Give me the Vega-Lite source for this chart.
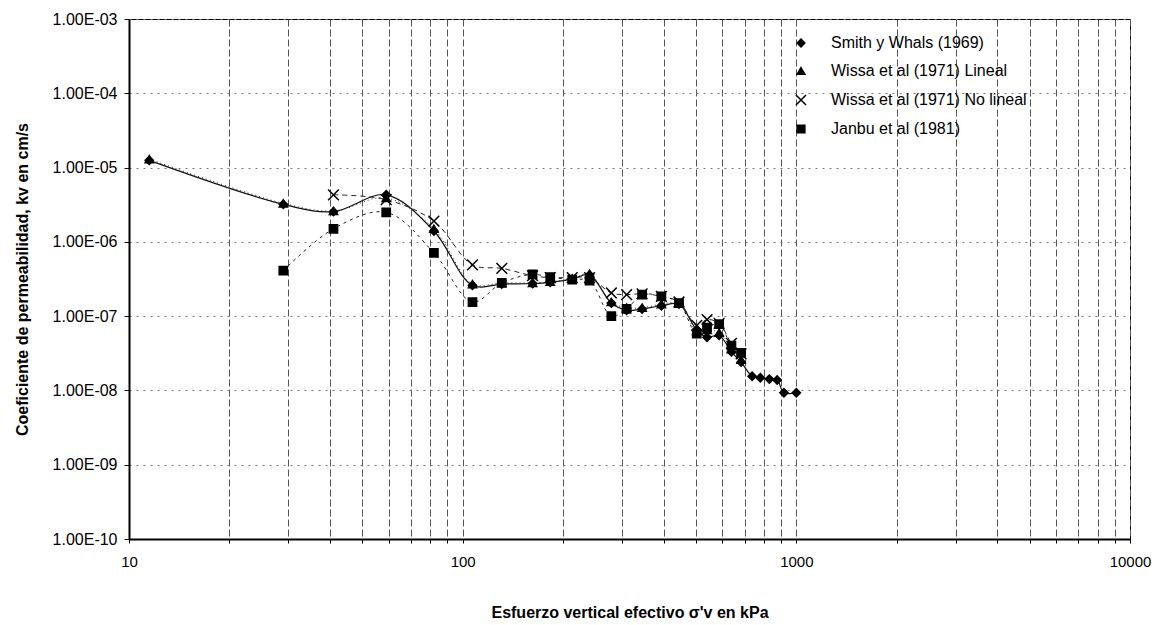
{
  "$schema": "https://vega.github.io/schema/vega-lite/v6.json",
  "width": 1001,
  "height": 520,
  "autosize": {"type": "none"},
  "padding": {"left": 129, "top": 19, "right": 32, "bottom": 86},
  "background": "white",
  "config": {
    "font": "Liberation Sans",
    "view": {"stroke": "black", "strokeWidth": 1},
    "axis": {"labelColor": "black", "titleColor": "black", "domainColor": "black", "tickColor": "black", "labelFont": "Liberation Sans", "titleFont": "Liberation Sans"}
  },
  "data": {
    "values": [
      {"serie": "Smith y Whals (1969)", "x": 11.5, "k": 1.25e-5},
      {"serie": "Smith y Whals (1969)", "x": 29, "k": 3.2e-6},
      {"serie": "Smith y Whals (1969)", "x": 41, "k": 2.55e-6},
      {"serie": "Smith y Whals (1969)", "x": 59, "k": 4.3e-6},
      {"serie": "Smith y Whals (1969)", "x": 82, "k": 1.4e-6},
      {"serie": "Smith y Whals (1969)", "x": 107, "k": 2.6e-7},
      {"serie": "Smith y Whals (1969)", "x": 131, "k": 2.7e-7},
      {"serie": "Smith y Whals (1969)", "x": 162, "k": 2.75e-7},
      {"serie": "Smith y Whals (1969)", "x": 183, "k": 2.85e-7},
      {"serie": "Smith y Whals (1969)", "x": 213, "k": 3.15e-7},
      {"serie": "Smith y Whals (1969)", "x": 240, "k": 3.6e-7},
      {"serie": "Smith y Whals (1969)", "x": 279, "k": 1.5e-7},
      {"serie": "Smith y Whals (1969)", "x": 310, "k": 1.2e-7},
      {"serie": "Smith y Whals (1969)", "x": 345, "k": 1.25e-7},
      {"serie": "Smith y Whals (1969)", "x": 394, "k": 1.38e-7},
      {"serie": "Smith y Whals (1969)", "x": 445, "k": 1.45e-7},
      {"serie": "Smith y Whals (1969)", "x": 503, "k": 6.5e-8},
      {"serie": "Smith y Whals (1969)", "x": 540, "k": 5.2e-8},
      {"serie": "Smith y Whals (1969)", "x": 587, "k": 5.5e-8},
      {"serie": "Smith y Whals (1969)", "x": 639, "k": 3.3e-8},
      {"serie": "Smith y Whals (1969)", "x": 683, "k": 2.4e-8},
      {"serie": "Smith y Whals (1969)", "x": 737, "k": 1.55e-8},
      {"serie": "Smith y Whals (1969)", "x": 780, "k": 1.48e-8},
      {"serie": "Smith y Whals (1969)", "x": 830, "k": 1.42e-8},
      {"serie": "Smith y Whals (1969)", "x": 876, "k": 1.38e-8},
      {"serie": "Smith y Whals (1969)", "x": 918, "k": 9.3e-9},
      {"serie": "Smith y Whals (1969)", "x": 1000, "k": 9.3e-9},
      {"serie": "Wissa et al (1971) Lineal", "x": 11.5, "k": 1.3e-5},
      {"serie": "Wissa et al (1971) Lineal", "x": 29, "k": 3.3e-6},
      {"serie": "Wissa et al (1971) Lineal", "x": 41, "k": 2.6e-6},
      {"serie": "Wissa et al (1971) Lineal", "x": 59, "k": 3.9e-6},
      {"serie": "Wissa et al (1971) Lineal", "x": 82, "k": 1.5e-6},
      {"serie": "Wissa et al (1971) Lineal", "x": 107, "k": 2.7e-7},
      {"serie": "Wissa et al (1971) Lineal", "x": 131, "k": 2.8e-7},
      {"serie": "Wissa et al (1971) Lineal", "x": 162, "k": 2.8e-7},
      {"serie": "Wissa et al (1971) Lineal", "x": 183, "k": 2.9e-7},
      {"serie": "Wissa et al (1971) Lineal", "x": 213, "k": 3.2e-7},
      {"serie": "Wissa et al (1971) Lineal", "x": 240, "k": 3.7e-7},
      {"serie": "Wissa et al (1971) Lineal", "x": 279, "k": 1.55e-7},
      {"serie": "Wissa et al (1971) Lineal", "x": 310, "k": 1.3e-7},
      {"serie": "Wissa et al (1971) Lineal", "x": 345, "k": 1.3e-7},
      {"serie": "Wissa et al (1971) Lineal", "x": 394, "k": 1.45e-7},
      {"serie": "Wissa et al (1971) Lineal", "x": 445, "k": 1.5e-7},
      {"serie": "Wissa et al (1971) Lineal", "x": 503, "k": 6.3e-8},
      {"serie": "Wissa et al (1971) Lineal", "x": 540, "k": 6.5e-8},
      {"serie": "Wissa et al (1971) Lineal", "x": 587, "k": 6.0e-8},
      {"serie": "Wissa et al (1971) Lineal", "x": 639, "k": 3.6e-8},
      {"serie": "Wissa et al (1971) Lineal", "x": 683, "k": 2.6e-8},
      {"serie": "Wissa et al (1971) No lineal", "x": 41, "k": 4.3e-6},
      {"serie": "Wissa et al (1971) No lineal", "x": 59, "k": 3.7e-6},
      {"serie": "Wissa et al (1971) No lineal", "x": 82, "k": 1.9e-6},
      {"serie": "Wissa et al (1971) No lineal", "x": 107, "k": 4.9e-7},
      {"serie": "Wissa et al (1971) No lineal", "x": 131, "k": 4.4e-7},
      {"serie": "Wissa et al (1971) No lineal", "x": 162, "k": 3.5e-7},
      {"serie": "Wissa et al (1971) No lineal", "x": 183, "k": 3.3e-7},
      {"serie": "Wissa et al (1971) No lineal", "x": 213, "k": 3.3e-7},
      {"serie": "Wissa et al (1971) No lineal", "x": 240, "k": 3.3e-7},
      {"serie": "Wissa et al (1971) No lineal", "x": 279, "k": 2.05e-7},
      {"serie": "Wissa et al (1971) No lineal", "x": 310, "k": 1.95e-7},
      {"serie": "Wissa et al (1971) No lineal", "x": 345, "k": 2.0e-7},
      {"serie": "Wissa et al (1971) No lineal", "x": 394, "k": 1.85e-7},
      {"serie": "Wissa et al (1971) No lineal", "x": 445, "k": 1.55e-7},
      {"serie": "Wissa et al (1971) No lineal", "x": 503, "k": 7.5e-8},
      {"serie": "Wissa et al (1971) No lineal", "x": 540, "k": 9.0e-8},
      {"serie": "Wissa et al (1971) No lineal", "x": 587, "k": 8.0e-8},
      {"serie": "Wissa et al (1971) No lineal", "x": 639, "k": 4.3e-8},
      {"serie": "Wissa et al (1971) No lineal", "x": 683, "k": 3.1e-8},
      {"serie": "Janbu et al (1981)", "x": 29, "k": 4.1e-7},
      {"serie": "Janbu et al (1981)", "x": 41, "k": 1.5e-6},
      {"serie": "Janbu et al (1981)", "x": 59, "k": 2.5e-6},
      {"serie": "Janbu et al (1981)", "x": 82, "k": 7.1e-7},
      {"serie": "Janbu et al (1981)", "x": 107, "k": 1.55e-7},
      {"serie": "Janbu et al (1981)", "x": 131, "k": 2.8e-7},
      {"serie": "Janbu et al (1981)", "x": 162, "k": 3.65e-7},
      {"serie": "Janbu et al (1981)", "x": 183, "k": 3.35e-7},
      {"serie": "Janbu et al (1981)", "x": 213, "k": 3.1e-7},
      {"serie": "Janbu et al (1981)", "x": 240, "k": 3.0e-7},
      {"serie": "Janbu et al (1981)", "x": 279, "k": 1.0e-7},
      {"serie": "Janbu et al (1981)", "x": 310, "k": 1.25e-7},
      {"serie": "Janbu et al (1981)", "x": 345, "k": 1.95e-7},
      {"serie": "Janbu et al (1981)", "x": 394, "k": 1.85e-7},
      {"serie": "Janbu et al (1981)", "x": 445, "k": 1.5e-7},
      {"serie": "Janbu et al (1981)", "x": 503, "k": 5.8e-8},
      {"serie": "Janbu et al (1981)", "x": 540, "k": 7.0e-8},
      {"serie": "Janbu et al (1981)", "x": 587, "k": 7.8e-8},
      {"serie": "Janbu et al (1981)", "x": 639, "k": 4.0e-8},
      {"serie": "Janbu et al (1981)", "x": 683, "k": 3.2e-8}
    ]
  },
  "encoding": {
    "x": {
      "field": "x", "type": "quantitative",
      "scale": {"type": "log", "domain": [10, 10000], "nice": false},
      "axis": {
        "title": "Esfuerzo vertical efectivo σ'v en kPa",
        "titleFontSize": 16, "titleFontWeight": "bold", "titlePadding": 35,
        "values": [10, 20, 30, 40, 50, 60, 70, 80, 90, 100, 200, 300, 400, 500, 600, 700, 800, 900, 1000, 2000, 3000, 4000, 5000, 6000, 7000, 8000, 9000, 10000],
        "labelExpr": "indexof([10, 100, 1000, 10000], datum.value) >= 0 ? format(datum.value, 'd') : ''",
        "labelFontSize": 15, "labelPadding": 11, "labelFlush": false, "labelOverlap": false,
        "tickSize": 4, "domainWidth": 2,
        "grid": true, "gridColor": "#555", "gridDash": [7, 3], "gridWidth": 1
      }
    },
    "y": {
      "field": "k", "type": "quantitative",
      "scale": {"type": "log", "domain": [1e-10, 1e-3], "nice": false},
      "axis": {
        "title": "Coeficiente de permeabilidad, kv en cm/s",
        "titleFontSize": 16, "titleFontWeight": "bold", "titlePadding": 22,
        "values": [1e-10, 1e-9, 1e-8, 1e-7, 1e-6, 1e-5, 1e-4, 1e-3],
        "labelExpr": "'1.00E-' + format(-round(log(datum.value) / LN10), '02d')",
        "labelFontSize": 16, "labelPadding": 7, "labelFlush": false, "labelOverlap": false,
        "tickSize": 5, "domainWidth": 2,
        "grid": true, "gridColor": "#777", "gridDash": [2, 5], "gridWidth": 1
      }
    }
  },
  "layer": [
    {
      "transform": [{"filter": "datum.serie == 'Smith y Whals (1969)'"}],
      "mark": {"type": "line", "interpolate": "catmull-rom", "color": "#111", "strokeWidth": 1.2}
    },
    {
      "transform": [{"filter": "datum.serie == 'Wissa et al (1971) Lineal'"}],
      "mark": {"type": "line", "interpolate": "catmull-rom", "color": "#222", "strokeWidth": 1, "strokeDash": [1, 3]}
    },
    {
      "transform": [{"filter": "datum.serie == 'Wissa et al (1971) No lineal'"}],
      "mark": {"type": "line", "interpolate": "catmull-rom", "color": "#222", "strokeWidth": 1, "strokeDash": [5, 4]}
    },
    {
      "transform": [{"filter": "datum.serie == 'Janbu et al (1981)'"}],
      "mark": {"type": "line", "interpolate": "catmull-rom", "color": "#222", "strokeWidth": 1, "strokeDash": [3, 4]}
    },
    {
      "mark": {"type": "point", "filled": true, "fill": "black", "stroke": "black", "strokeWidth": 1.5, "opacity": 1, "size": 68},
      "encoding": {
        "shape": {
          "field": "serie", "type": "nominal",
          "scale": {"domain": ["Smith y Whals (1969)", "Wissa et al (1971) Lineal", "Wissa et al (1971) No lineal", "Janbu et al (1981)"], "range": ["diamond", "triangle-up", "M-1.3,-1.3L1.3,1.3M1.3,-1.3L-1.3,1.3", "square"]},
          "legend": {
            "title": null, "orient": "none", "legendX": 664, "legendY": 16,
            "labelFontSize": 16, "labelFont": "Liberation Sans", "labelColor": "black", "labelLimit": 400,
            "labelOffset": 22, "rowPadding": 12, "padding": 0,
            "symbolSize": 60,
            "encode": {"symbols": {"update": {"fill": {"value": "black"}, "stroke": {"value": "black"}, "strokeWidth": {"value": 1.5}, "opacity": {"value": 1}}}}
          }
        }
      }
    }
  ]
}
